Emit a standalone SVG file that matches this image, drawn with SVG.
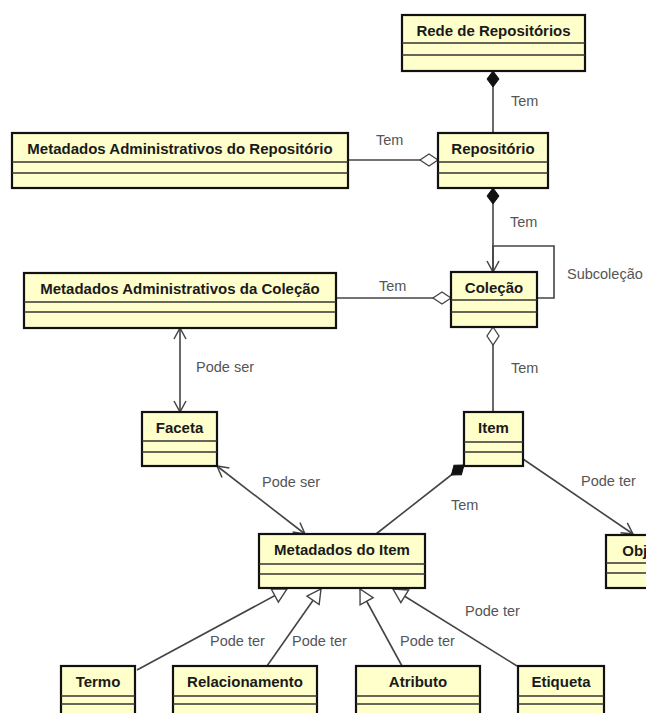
<svg xmlns="http://www.w3.org/2000/svg" width="646" height="713" viewBox="0 0 646 713">
<style>
.box{fill:#FFFFCC;stroke:#111;stroke-width:2.2}
.sep{stroke:#333;stroke-width:1.3}
.name{font-family:"Liberation Sans",Arial,sans-serif;font-weight:bold;font-size:15px;fill:#1a1a1a;text-anchor:middle}
.lbl{font-family:"Liberation Sans",Arial,sans-serif;font-size:14.5px;fill:#555}
.conn{fill:none;stroke:#444;stroke-width:1.6}
</style>
<defs>
<marker id="dfill" markerUnits="userSpaceOnUse" markerWidth="20" markerHeight="16" refX="0" refY="0" viewBox="-1 -8 19 16" orient="auto" overflow="visible">
<path d="M0,0 L8,-6 L16,0 L8,6 Z" fill="#111" stroke="#111" stroke-width="1"/>
</marker>
<marker id="dhollow" markerUnits="userSpaceOnUse" markerWidth="20" markerHeight="16" refX="0" refY="0" viewBox="-1 -8 19 16" orient="auto" overflow="visible">
<path d="M0,0 L9,-6 L18,0 L9,6 Z" fill="#fff" stroke="#444" stroke-width="1.3"/>
</marker>
<marker id="arr" markerUnits="userSpaceOnUse" markerWidth="14" markerHeight="14" refX="0" refY="0" viewBox="-12 -7 13 14" orient="auto-start-reverse" overflow="visible">
<path d="M-11,-6 L0,0 L-11,6" fill="none" stroke="#444" stroke-width="1.5"/>
</marker>
<marker id="tri" markerUnits="userSpaceOnUse" markerWidth="16" markerHeight="18" refX="0" refY="0" viewBox="-14 -8 15 16" orient="auto" overflow="visible">
<path d="M-13,-7 L0,0 L-13,7 Z" fill="#fff" stroke="#444" stroke-width="1.3"/>
</marker>
</defs>

<g id="connectors">
<path class="conn" d="M493,71 L493,133" marker-start="url(#dfill)"/>
<text class="lbl" x="511" y="106">Tem</text>
<path class="conn" d="M438,160 L348,160" marker-start="url(#dhollow)"/>
<text class="lbl" x="376" y="145">Tem</text>
<path class="conn" d="M493,188 L493,272" marker-start="url(#dfill)" marker-end="url(#arr)"/>
<text class="lbl" x="510" y="227">Tem</text>
<path class="conn" d="M537,298 L554,298 L554,246 L493,246 L493,272"/>
<text class="lbl" x="567" y="279">Subcoleção</text>
<path class="conn" d="M451,298 L336,298" marker-start="url(#dhollow)"/>
<text class="lbl" x="379" y="291">Tem</text>
<path class="conn" d="M180,328 L180,412" marker-start="url(#arr)" marker-end="url(#arr)"/>
<text class="lbl" x="196" y="372">Pode ser</text>
<path class="conn" d="M493,327 L493,412" marker-start="url(#dhollow)"/>
<text class="lbl" x="511" y="373">Tem</text>
<path class="conn" d="M464,465 L376,534" marker-start="url(#dfill)"/>
<text class="lbl" x="451" y="510">Tem</text>
<path class="conn" d="M523,459 L633,534" marker-end="url(#arr)"/>
<text class="lbl" x="581" y="486">Pode ter</text>
<path class="conn" d="M217,466 L305,534" marker-start="url(#arr)" marker-end="url(#arr)"/>
<text class="lbl" x="262" y="487">Pode ser</text>
<path class="conn" d="M137,670 L287,589" marker-end="url(#tri)"/>
<text class="lbl" x="210" y="646">Pode ter</text>
<path class="conn" d="M267,666 L321,589" marker-end="url(#tri)"/>
<text class="lbl" x="292" y="646">Pode ter</text>
<path class="conn" d="M402,666 L360,589" marker-end="url(#tri)"/>
<text class="lbl" x="400" y="646">Pode ter</text>
<path class="conn" d="M517,666 L393,589" marker-end="url(#tri)"/>
<text class="lbl" x="465" y="616">Pode ter</text>
</g>

<g id="rede">
<rect class="box" x="402" y="15" width="183" height="56"/>
<line class="sep" x1="402" y1="43" x2="585" y2="43"/>
<line class="sep" x1="402" y1="55" x2="585" y2="55"/>
<text class="name" x="493.5" y="36">Rede de Repositórios</text>
</g>
<g id="repositorio">
<rect class="box" x="438" y="133" width="110" height="55"/>
<line class="sep" x1="438" y1="162" x2="548" y2="162"/>
<line class="sep" x1="438" y1="173" x2="548" y2="173"/>
<text class="name" x="493" y="154">Repositório</text>
</g>
<g id="mar">
<rect class="box" x="12" y="133" width="336" height="55"/>
<line class="sep" x1="12" y1="162" x2="348" y2="162"/>
<line class="sep" x1="12" y1="173" x2="348" y2="173"/>
<text class="name" x="180" y="154">Metadados Administrativos do Repositório</text>
</g>
<g id="colecao">
<rect class="box" x="451" y="272" width="86" height="55"/>
<line class="sep" x1="451" y1="300" x2="537" y2="300"/>
<line class="sep" x1="451" y1="312" x2="537" y2="312"/>
<text class="name" x="494" y="293">Coleção</text>
</g>
<g id="mac">
<rect class="box" x="24" y="273" width="312" height="55"/>
<line class="sep" x1="24" y1="302" x2="336" y2="302"/>
<line class="sep" x1="24" y1="312" x2="336" y2="312"/>
<text class="name" x="180" y="294">Metadados Administrativos da Coleção</text>
</g>
<g id="faceta">
<rect class="box" x="142" y="412" width="75" height="54"/>
<line class="sep" x1="142" y1="441" x2="217" y2="441"/>
<line class="sep" x1="142" y1="452" x2="217" y2="452"/>
<text class="name" x="179.5" y="433">Faceta</text>
</g>
<g id="item">
<rect class="box" x="464" y="412" width="59" height="54"/>
<line class="sep" x1="464" y1="442" x2="523" y2="442"/>
<line class="sep" x1="464" y1="452" x2="523" y2="452"/>
<text class="name" x="493.5" y="433">Item</text>
</g>
<g id="metadados-item">
<rect class="box" x="259" y="534" width="166" height="54"/>
<line class="sep" x1="259" y1="564" x2="425" y2="564"/>
<line class="sep" x1="259" y1="574" x2="425" y2="574"/>
<text class="name" x="342" y="555">Metadados do Item</text>
</g>
<g id="objeto">
<rect class="box" x="606" y="535" width="80" height="53"/>
<line class="sep" x1="606" y1="563" x2="686" y2="563"/>
<line class="sep" x1="606" y1="573" x2="686" y2="573"/>
<text class="name" x="646" y="556">Objeto</text>
</g>
<g id="termo">
<rect class="box" x="61" y="666" width="74" height="60"/>
<line class="sep" x1="61" y1="696" x2="135" y2="696"/>
<line class="sep" x1="61" y1="704" x2="135" y2="704"/>
<text class="name" x="98" y="687">Termo</text>
</g>
<g id="relacionamento">
<rect class="box" x="173" y="666" width="144" height="60"/>
<line class="sep" x1="173" y1="696" x2="317" y2="696"/>
<line class="sep" x1="173" y1="704" x2="317" y2="704"/>
<text class="name" x="245" y="687">Relacionamento</text>
</g>
<g id="atributo">
<rect class="box" x="356" y="666" width="124" height="60"/>
<line class="sep" x1="356" y1="696" x2="480" y2="696"/>
<line class="sep" x1="356" y1="704" x2="480" y2="704"/>
<text class="name" x="418" y="687">Atributo</text>
</g>
<g id="etiqueta">
<rect class="box" x="518" y="666" width="86" height="60"/>
<line class="sep" x1="518" y1="696" x2="604" y2="696"/>
<line class="sep" x1="518" y1="704" x2="604" y2="704"/>
<text class="name" x="561" y="687">Etiqueta</text>
</g>
</svg>
